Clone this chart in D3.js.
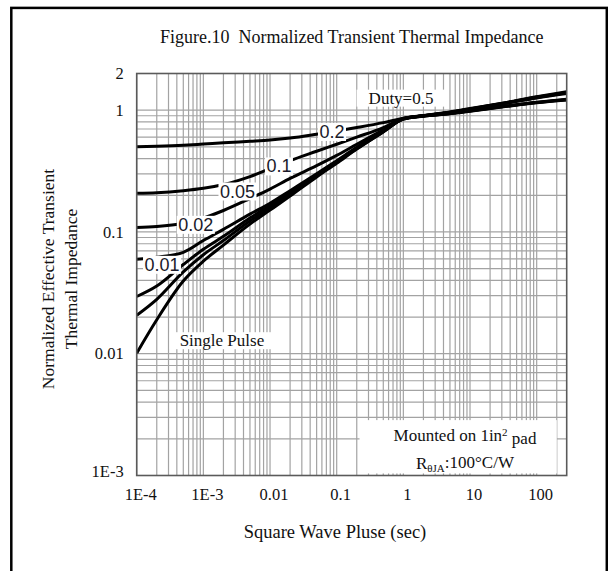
<!DOCTYPE html>
<html>
<head>
<meta charset="utf-8">
<script src="https://cdn.jsdelivr.net/npm/d3@7"></script>
<style>
  body { margin: 0; background: #fff; }
  text { font-family: "Liberation Serif", "Times New Roman", serif; fill: #111; }
  .grid line { stroke: #a3a3a3; stroke-width: 1.2; }
  .curve { fill: none; stroke: #000; stroke-width: 3; }
  .dlabel { font-family: "Liberation Sans", Arial, sans-serif; font-size: 18px; fill: #1a1a2a; }
</style>
</head>
<body>
<div id="chart"></div>
<script>
// pulse widths (sec) read along the x axis
var times = [1e-4, 2e-4, 5e-4, 1e-3, 2e-3, 5e-3, 0.01, 0.02, 0.05, 0.1, 0.2, 0.5, 1, 2, 5, 10, 30, 100, 282];

// normalized impedance per duty cycle
var duty05  = [0.50, 0.505, 0.515, 0.527, 0.54, 0.555, 0.568, 0.59, 0.635, 0.675, 0.72, 0.79, 0.86, 0.905, 0.965, 1.03, 1.14, 1.29, 1.42];
var duty02  = [0.208, 0.21, 0.218, 0.228, 0.245, 0.285, 0.33, 0.385, 0.46, 0.525, 0.6, 0.72, 0.855, 0.9, 0.96, 1.025, 1.135, 1.28, 1.40];
var duty01  = [0.109, 0.111, 0.118, 0.13, 0.15, 0.188, 0.225, 0.275, 0.35, 0.425, 0.525, 0.69, 0.852, 0.9, 0.958, 1.02, 1.13, 1.27, 1.39];
var duty005 = [0.0598, 0.062, 0.068, 0.085, 0.105, 0.14, 0.172, 0.218, 0.3, 0.385, 0.495, 0.675, 0.85, 0.898, 0.955, 1.015, 1.12, 1.26, 1.37];
var duty002 = [0.0295, 0.036, 0.054, 0.072, 0.092, 0.13, 0.165, 0.21, 0.295, 0.378, 0.488, 0.668, 0.848, 0.895, 0.94, 0.99, 1.07, 1.16, 1.23];
var duty001 = [0.0207, 0.028, 0.047, 0.065, 0.085, 0.123, 0.157, 0.203, 0.288, 0.371, 0.482, 0.665, 0.846, 0.894, 0.938, 0.985, 1.065, 1.155, 1.22];
var single  = [0.0101, 0.019, 0.0395, 0.0575, 0.078, 0.116, 0.151, 0.197, 0.283, 0.367, 0.479, 0.663, 0.845, 0.893, 0.936, 0.98, 1.06, 1.15, 1.21];

var xTicks = [1e-4, 1e-3, 0.01, 0.1, 1, 10, 100];
var xTickLabels = ["1E-4", "1E-3", "0.01", "0.1", "1", "10", "100"];
var yTicks = [1e-3, 0.01, 0.1, 1, 2];
var yTickLabels = ["1E-3", "0.01", "0.1", "1", "2"];

// curve labels as printed, placed in data units
var labelText = ["0.2", "0.1", "0.05", "0.02", "0.01"];
var labelT = [0.085, 0.0136, 0.00325, 7.7e-4, 2.4e-4];
var labelZ = [0.666, 0.347, 0.216, 0.115, 0.054];

var W = 608, H = 571;
var margin = {top: 73.5, right: 41.3, bottom: 95.5, left: 136.7};
var width = W - margin.left - margin.right;
var height = H - margin.top - margin.bottom;

var x = d3.scaleLog().domain([1e-4, 282]).range([0, width]);
var y = d3.scaleLog().domain([1e-3, 2]).range([height, 0]);

var svg = d3.select("#chart").append("svg")
  .attr("width", W)
  .attr("height", H);

// outer frame
svg.append("rect")
  .attr("x", 11.3).attr("y", 7.9)
  .attr("width", 595.5).attr("height", 590)
  .attr("fill", "none")
  .attr("stroke", "#000")
  .attr("stroke-width", 2.5);

svg.append("text")
  .attr("x", margin.left + width / 2)
  .attr("y", 43)
  .attr("text-anchor", "middle")
  .style("font-size", "18px")
  .style("white-space", "pre")
  .text("Figure.10  Normalized Transient Thermal Impedance");

var g = svg.append("g")
  .attr("transform", "translate(" + margin.left + "," + margin.top + ")");

// log grid: 1..9 in every decade
var xGrid = [], yGrid = [];
for (var e = -4; e <= 2; e++) {
  for (var m = 1; m < 10; m++) {
    var v = m * Math.pow(10, e);
    if (v <= 282) xGrid.push(v);
  }
}
for (var e2 = -3; e2 <= 0; e2++) {
  for (var m2 = 1; m2 < 10; m2++) {
    var v2 = m2 * Math.pow(10, e2);
    if (v2 <= 2) yGrid.push(v2);
  }
}

var grid = g.append("g").attr("class", "grid");
grid.selectAll(".vx").data(xGrid).enter().append("line")
  .attr("x1", function (d) { return x(d); })
  .attr("x2", function (d) { return x(d); })
  .attr("y1", 0).attr("y2", height);
grid.selectAll(".hy").data(yGrid).enter().append("line")
  .attr("y1", function (d) { return y(d); })
  .attr("y2", function (d) { return y(d); })
  .attr("x1", 0).attr("x2", width);

g.append("clipPath").attr("id", "plot")
  .append("rect").attr("width", width).attr("height", height);

var series = [duty05, duty02, duty01, duty005, duty002, duty001, single];

var line = d3.line()
  .x(function (d, i) { return x(times[i]); })
  .y(function (d) { return y(d); })
  .curve(d3.curveMonotoneX);

g.append("g").attr("clip-path", "url(#plot)")
  .selectAll("path").data(series).enter().append("path")
  .attr("class", "curve")
  .attr("d", line);

// white boxed labels sitting on the curves
function boxed(sel, pad) {
  sel.each(function () {
    var b = this.getBBox();
    d3.select(this.parentNode).insert("rect", function () { return this.firstChild; })
      .attr("x", b.x - pad).attr("y", b.y + 1)
      .attr("width", b.width + 2 * pad).attr("height", b.height - 2)
      .attr("fill", "#fff");
  });
}

labelText.forEach(function (t, i) {
  var lg = g.append("g");
  lg.append("text")
    .attr("class", "dlabel")
    .attr("x", x(labelT[i]))
    .attr("y", y(labelZ[i]))
    .attr("dy", "0.35em")
    .attr("text-anchor", "middle")
    .text(t)
    .call(boxed, 1.5);
});

var duty = g.append("g");
duty.append("text")
  .attr("x", x(0.923)).attr("y", y(1.266)).attr("dy", "0.35em")
  .attr("text-anchor", "middle")
  .style("font-size", "17px")
  .text("Duty=0.5")
  .call(boxed, 12);

var sp = g.append("g");
sp.append("text")
  .attr("x", x(1.9e-3)).attr("y", y(0.0129)).attr("dy", "0.35em")
  .attr("text-anchor", "middle")
  .style("font-size", "17px")
  .text("Single Pulse")
  .call(boxed, 10);

// note box in the lower right corner
g.append("rect")
  .attr("x", x(0.22)).attr("y", y(0.00285))
  .attr("width", x(200) - x(0.22))
  .attr("height", y(1.04e-3) - y(0.00285))
  .attr("fill", "#fff");

var note1 = g.append("text")
  .attr("x", x(8.4)).attr("y", y(0.00215)).attr("dy", "0.35em")
  .attr("text-anchor", "middle")
  .style("font-size", "17px");
note1.append("tspan").text("Mounted on 1in");
note1.append("tspan").attr("dy", "-0.45em").style("font-size", "11px").text("2");
note1.append("tspan").attr("dy", "0.45em").text(" pad");

var note2 = g.append("text")
  .attr("x", x(8.4)).attr("y", y(0.00126)).attr("dy", "0.35em")
  .attr("text-anchor", "middle")
  .style("font-size", "17px");
note2.append("tspan").text("R");
note2.append("tspan").attr("dy", "0.25em").style("font-size", "11px").text("θJA");
note2.append("tspan").attr("dy", "-0.25em").text(":100°C/W");

// plot border
g.append("rect")
  .attr("width", width).attr("height", height)
  .attr("fill", "none")
  .attr("stroke", "#5a5a5a")
  .attr("stroke-width", 1.6);

// tick labels
g.selectAll(".xl").data(xTicks).enter().append("text")
  .attr("x", function (d) { return x(d) + 4; })
  .attr("y", height + 24)
  .attr("text-anchor", "middle")
  .style("font-size", "16.5px")
  .text(function (d, i) { return xTickLabels[i]; });

g.selectAll(".yl").data(yTicks).enter().append("text")
  .attr("x", -13)
  .attr("y", function (d) { return Math.min(y(d), height - 4); })
  .attr("dy", "0.35em")
  .attr("text-anchor", "end")
  .style("font-size", "16.5px")
  .text(function (d, i) { return yTickLabels[i]; });

svg.append("text")
  .attr("x", 335).attr("y", 538)
  .attr("text-anchor", "middle")
  .style("font-size", "18.5px")
  .text("Square Wave Pluse (sec)");

var yt = svg.append("text")
  .attr("transform", "translate(54,279) rotate(-90)")
  .attr("text-anchor", "middle")
  .style("font-size", "17.5px");
yt.append("tspan").attr("x", 0).attr("dy", 0).text("Normalized Effective Transient");
yt.append("tspan").attr("x", 0).attr("dy", "1.3em").text("Thermal Impedance");
</script>
</body>
</html>
